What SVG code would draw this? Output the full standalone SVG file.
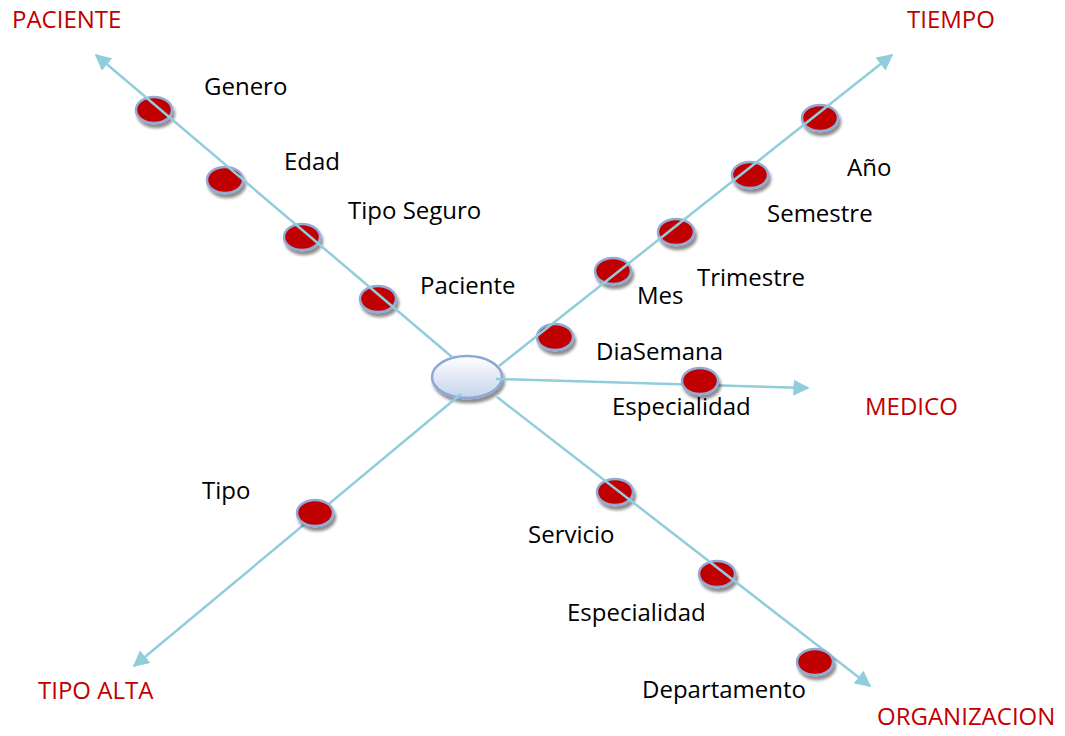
<svg xmlns="http://www.w3.org/2000/svg" width="1065" height="736" viewBox="0 0 1065 736">
  <defs>
    <linearGradient id="hubFill" x1="0" y1="0" x2="0" y2="1">
      <stop offset="0" stop-color="#ffffff"/>
      <stop offset="1" stop-color="#c5d3ea"/>
    </linearGradient>
    <filter id="shade" x="-40%" y="-40%" width="180%" height="190%">
      <feGaussianBlur in="SourceAlpha" stdDeviation="1.8"/>
      <feOffset dx="2" dy="4" result="b"/>
      <feComponentTransfer><feFuncA type="linear" slope="0.45"/></feComponentTransfer>
      <feMerge><feMergeNode/><feMergeNode in="SourceGraphic"/></feMerge>
    </filter>
    <marker id="arrow" viewBox="0 0 10 10" refX="9" refY="5" markerWidth="6.5" markerHeight="6.5" markerUnits="strokeWidth" orient="auto">
      <path d="M0,0 L10,5 L0,10 Z" fill="#92cddc"/>
    </marker>
    <style>
      .axis { stroke: #92cddc; stroke-width: 2.5; fill: none; marker-end: url(#arrow); }
      .dot { fill: #c00000; stroke: #93a9d6; stroke-width: 2.5; filter: url(#shade); }
      .hub { fill: url(#hubFill); stroke: #8ea8d6; stroke-width: 2.5; filter: url(#shade); }
      .lbl { font-family: "Open Sans", "Liberation Sans", sans-serif; font-size: 24px; fill: #000; }
      .dim { font-family: "Open Sans", "Liberation Sans", sans-serif; font-size: 24px; fill: #c00000; }
    </style>
  </defs>

  <rect width="1065" height="736" fill="#ffffff"/>

  <!-- central fact hub -->
  <g id="hub">
    <ellipse class="hub" cx="467" cy="377" rx="35" ry="21"/>
  </g>

  <!-- attribute dots that sit under the axis lines -->
  <g id="genero"><ellipse class="dot" cx="154" cy="110" rx="18" ry="13"/></g>
  <g id="edad"><ellipse class="dot" cx="225" cy="180" rx="18" ry="13"/></g>
  <g id="tipo-seguro"><ellipse class="dot" cx="302" cy="237" rx="18" ry="13"/></g>
  <g id="paciente-attr"><ellipse class="dot" cx="378" cy="299" rx="18" ry="13"/></g>
  <g id="anio"><ellipse class="dot" cx="820" cy="118" rx="18" ry="13"/></g>
  <g id="semestre"><ellipse class="dot" cx="750" cy="175" rx="18" ry="13"/></g>
  <g id="trimestre"><ellipse class="dot" cx="676" cy="232" rx="18" ry="13"/></g>
  <g id="mes"><ellipse class="dot" cx="613" cy="271" rx="18" ry="13"/></g>
  <g id="diasemana"><ellipse class="dot" cx="555" cy="337" rx="18" ry="13"/></g>
  <g id="servicio"><ellipse class="dot" cx="615" cy="492" rx="18" ry="13"/></g>
  <g id="especialidad-org"><ellipse class="dot" cx="717" cy="574" rx="18" ry="13"/></g>

  <!-- dimension axes -->
  <g id="connectors">
    <line class="axis" x1="452" y1="357" x2="96" y2="55"/>
    <line class="axis" x1="499" y1="366" x2="892" y2="55"/>
    <line class="axis" x1="496" y1="379" x2="808" y2="388"/>
    <line class="axis" x1="497" y1="397" x2="870" y2="686"/>
    <line class="axis" x1="461" y1="394" x2="134" y2="666"/>
  </g>

  <!-- attribute dots drawn above the axis lines -->
  <g id="especialidad-med"><ellipse class="dot" cx="700" cy="381" rx="18" ry="13"/></g>
  <g id="tipo"><ellipse class="dot" cx="315" cy="513" rx="18" ry="13"/></g>
  <g id="departamento"><ellipse class="dot" cx="815" cy="662" rx="18" ry="13"/></g>

  <!-- attribute labels -->
  <g id="labels">
    <text class="lbl" x="204" y="95">Genero</text>
    <text class="lbl" x="284" y="170">Edad</text>
    <text class="lbl" x="348" y="219">Tipo Seguro</text>
    <text class="lbl" x="420" y="294">Paciente</text>
    <text class="lbl" x="847" y="176">Año</text>
    <text class="lbl" x="767" y="222">Semestre</text>
    <text class="lbl" x="697" y="286">Trimestre</text>
    <text class="lbl" x="637" y="304">Mes</text>
    <text class="lbl" x="596" y="360">DiaSemana</text>
    <text class="lbl" x="612" y="415">Especialidad</text>
    <text class="lbl" x="202" y="499">Tipo</text>
    <text class="lbl" x="528" y="543">Servicio</text>
    <text class="lbl" x="567" y="621">Especialidad</text>
    <text class="lbl" x="642" y="698">Departamento</text>
  </g>

  <!-- dimension names -->
  <g id="dimensions">
    <text class="dim" x="12" y="28">PACIENTE</text>
    <text class="dim" x="907" y="28">TIEMPO</text>
    <text class="dim" x="865" y="415">MEDICO</text>
    <text class="dim" x="38" y="699">TIPO ALTA</text>
    <text class="dim" x="877" y="725">ORGANIZACION</text>
  </g>
</svg>
